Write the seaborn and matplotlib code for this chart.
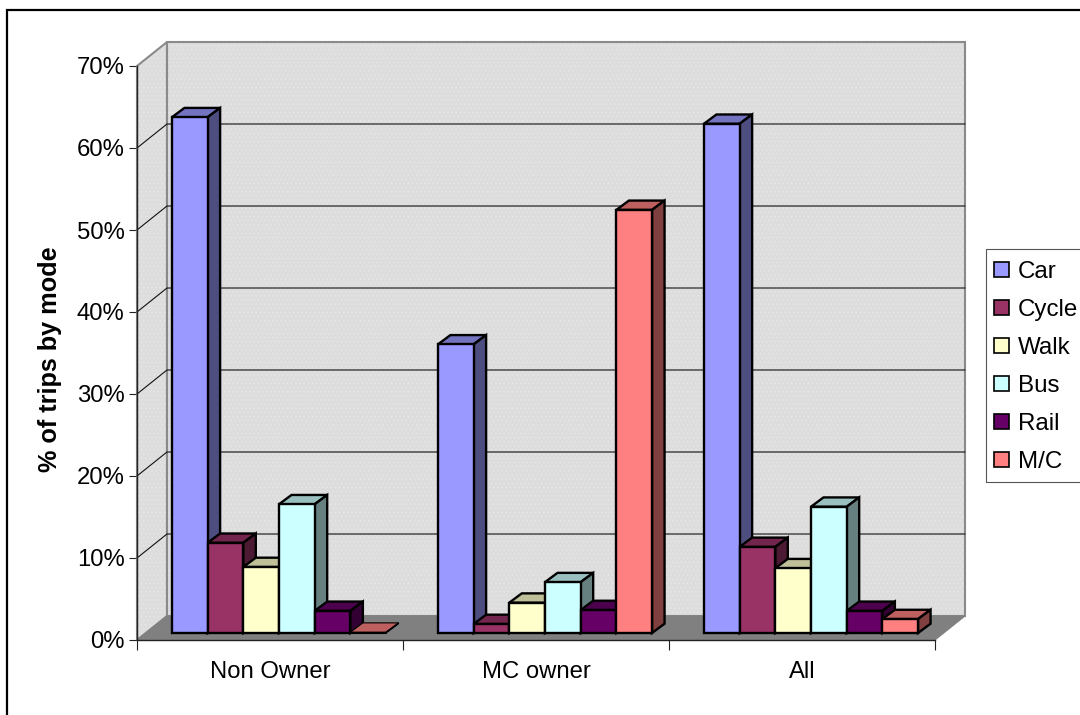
import matplotlib
matplotlib.use("Agg")
import matplotlib.pyplot as plt
import pandas as pd
import seaborn as sns
from matplotlib.lines import Line2D
from matplotlib.patches import Polygon, Rectangle

groups = ["Non Owner", "MC owner", "All"]
modes = ["Car", "Cycle", "Walk", "Bus", "Rail", "M/C"]
non_owner = [62.9, 11.0, 8.05, 15.7, 2.7, 0.1]
mc_owner = [35.2, 1.1, 3.7, 6.2, 2.8, 51.6]
all_riders = [62.1, 10.5, 7.9, 15.4, 2.7, 1.7]
colours = ["#9999FF", "#993366", "#FFFFCC", "#CCFFFF", "#660066", "#FF8080"]
y_ticks = [0, 10, 20, 30, 40, 50, 60, 70]

W, H = 1080, 715
sns.set_style("white")
plt.rcParams["font.family"] = ["Liberation Sans", "DejaVu Sans"]
plt.rcParams["hatch.linewidth"] = 0.2
for key in ("text.color", "axes.labelcolor", "xtick.labelcolor", "ytick.labelcolor"):
    plt.rcParams[key] = "black"

fig = plt.figure(figsize=(W / 100, H / 100), dpi=100, facecolor="white")


def pixel_axes(left, right, top, bottom, **kw):
    return fig.add_axes([left / W, 1 - bottom / H, (right - left) / W, (bottom - top) / H], **kw)


# Chart border: only the top and left edges fall inside the canvas
fig.add_artist(Line2D([7 / W, 7 / W, 1], [0, 1 - 10 / H, 1 - 10 / H], transform=fig.transFigure,
                      color="black", linewidth=1.6, solid_joinstyle="miter"))

# Front plane of the 3D box carries the axes and tick labels
box = pixel_axes(137, 935, 66, 640, zorder=1, facecolor="none")
box.set_xlim(-0.5, 2.5)
box.set_ylim(0, 70)
depth_x = 30 / 266
depth_y = 24 * 70 / 574

x0, x1 = -0.5, 2.5
wall_face = "#DDDDDD"
dot_colour = "#EEEEEE"
for pts in (
    [(x0 + depth_x, depth_y), (x1 + depth_x, depth_y), (x1 + depth_x, 70 + depth_y), (x0 + depth_x, 70 + depth_y)],
    [(x0, 0), (x0 + depth_x, depth_y), (x0 + depth_x, 70 + depth_y), (x0, 70)],
):
    box.add_patch(Polygon(pts, closed=True, facecolor=wall_face, edgecolor=dot_colour, hatch="....",
                          linewidth=0, clip_on=False, zorder=1))
    box.add_patch(Polygon(pts, closed=True, fill=False, edgecolor="#8A8A8A", linewidth=1.5,
                          clip_on=False, zorder=1.2))
# Floor
box.add_patch(Polygon([(x0, 0), (x1, 0), (x1 + depth_x, depth_y), (x0 + depth_x, depth_y)], closed=True,
                      facecolor="#808080", edgecolor="#808080", linewidth=0.8, clip_on=False, zorder=1.3))
# Gridlines run along the back wall and down the side wall
for v in y_ticks[1:-1]:
    box.plot([x0, x0 + depth_x, x1 + depth_x], [v, v + depth_y, v + depth_y], color="#111111", lw=0.8,
             clip_on=False, zorder=1.5)

for side in ("top", "right"):
    box.spines[side].set_visible(False)
for side in ("left", "bottom"):
    box.spines[side].set_color("#222222")
    box.spines[side].set_linewidth(1.0)
box.set_xticks([-0.5, 0.5, 1.5, 2.5])
box.set_xticklabels([])
box.set_xticks([0, 1, 2], minor=True)
box.set_xticklabels(groups, minor=True, fontsize=17.2)
box.tick_params(axis="x", which="major", length=7.5, width=0.8, color="#222222", bottom=True)
box.tick_params(axis="x", which="minor", length=0, pad=15)
box.set_yticks(y_ticks)
box.set_yticklabels([f"{v}%" for v in y_ticks], fontsize=17.2)
box.tick_params(axis="y", length=6, width=0.8, color="#222222", left=True, pad=3)
box.set_ylabel("% of trips by mode", fontsize=18.2, fontweight="bold")
box.yaxis.set_label_coords(-75 / 798, 0.489)

# Bars stand part way into the box
ax = pixel_axes(146, 944, 59, 633, zorder=2, facecolor="none")
table = pd.DataFrame({
    "group": [g for g in groups for _ in modes],
    "mode": modes * len(groups),
    "share": non_owner + mc_owner + all_riders,
})
sns.barplot(data=table, x="group", y="share", hue="mode", hue_order=modes, order=groups,
            palette=colours, width=0.805, gap=0, saturation=1, edgecolor="black", linewidth=1.7, ax=ax)
ax.set_xlim(-0.5, 2.5)
ax.set_ylim(0, 70)

bar_dx = 12.5 / 266
bar_dy = 9.3 * 70 / 574


def shade(hex_colour, k):
    r, g, b = matplotlib.colors.to_rgb(hex_colour)
    return (r * k, g * k, b * k)


bars = [p for c in ax.containers for p in c]
bars.sort(key=lambda p: p.get_x())
for i, bar in enumerate(bars):
    base = matplotlib.colors.to_hex(bar.get_facecolor())
    bx, bw, bh = bar.get_x(), bar.get_width(), bar.get_height()
    flat = bh < 0.5
    lw = 0.8 if flat else 1.7
    bar.set_zorder(3 + i + 0.5)
    bar.set_linewidth(lw)
    bar.set_clip_on(False)
    ax.add_patch(Polygon([(bx, bh), (bx + bw, bh), (bx + bw + bar_dx, bh + bar_dy), (bx + bar_dx, bh + bar_dy)],
                         closed=True, facecolor=shade(base, 0.75), edgecolor="black", linewidth=lw,
                         clip_on=False, zorder=3 + i))
    ax.add_patch(Polygon([(bx + bw, 0), (bx + bw + bar_dx, bar_dy), (bx + bw + bar_dx, bh + bar_dy), (bx + bw, bh)],
                         closed=True, facecolor=shade(base, 0.5), edgecolor="black", linewidth=lw,
                         clip_on=False, zorder=3 + i))
ax.set_axis_off()

# Legend box runs off the right edge of the canvas
fig.add_artist(Rectangle((986 / W, 1 - 482 / H), 110 / W, 233 / H, transform=fig.transFigure,
                         facecolor="white", edgecolor="#555555", linewidth=0.8, zorder=1.5))
sns.move_legend(ax, loc="upper left", bbox_to_anchor=(994 / W, 1 - 261 / H), bbox_transform=fig.transFigure,
                title=None, fontsize=17.4, frameon=False,
                handlelength=0.6, handleheight=0.6, handletextpad=0.4, labelspacing=0.66, borderpad=0,
                borderaxespad=0)
leg = ax.get_legend()
leg.set_zorder(50)
for h in leg.legend_handles:
    h.set_linewidth(1.2)
    h.set_edgecolor("black")

fig.savefig("out.png", dpi=100)
